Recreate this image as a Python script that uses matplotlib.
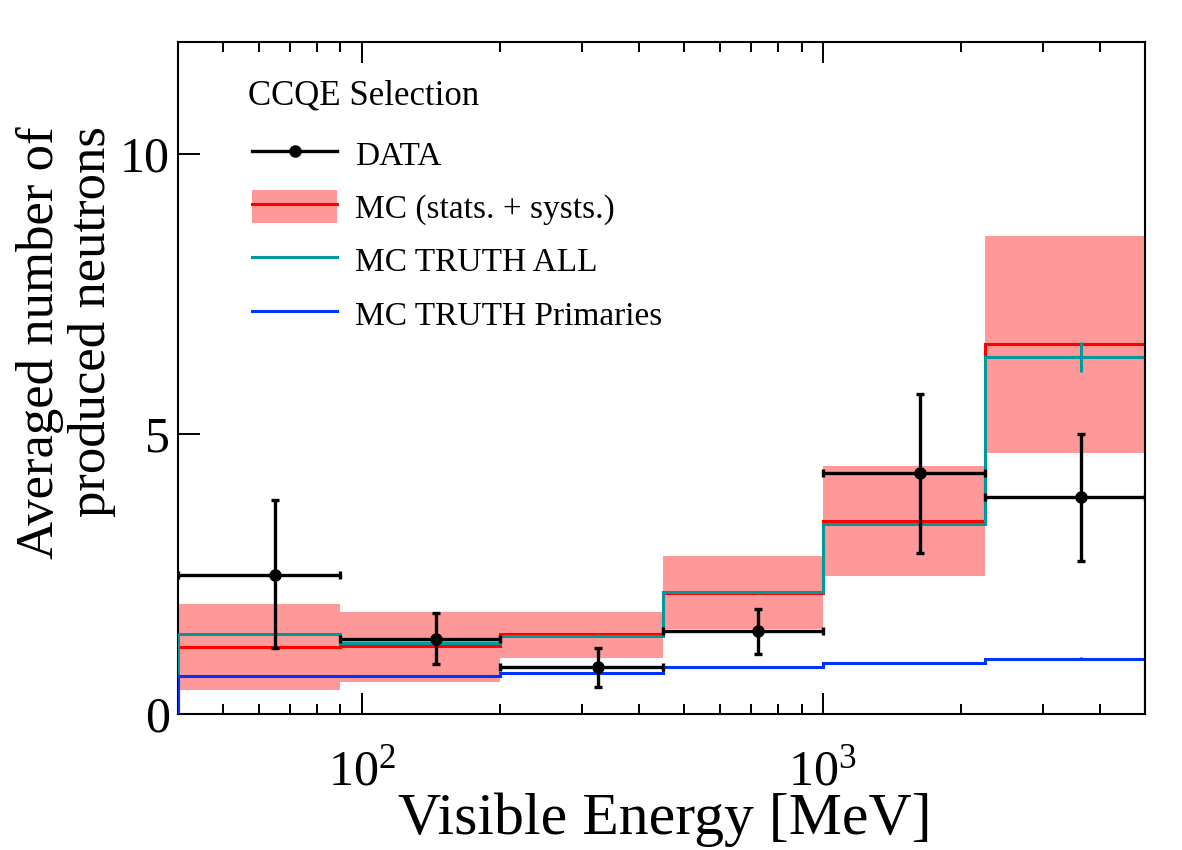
import matplotlib
matplotlib.use("Agg")
import matplotlib.pyplot as plt
from matplotlib.lines import Line2D
from matplotlib.patches import Patch
from matplotlib.ticker import NullFormatter

plt.rcParams['font.family'] = ['Liberation Serif', 'DejaVu Serif']
plt.rcParams['mathtext.fontset'] = 'custom'
plt.rcParams['mathtext.rm'] = 'Liberation Serif'
plt.rcParams['mathtext.it'] = 'Liberation Serif:italic'

# bins in visible energy [MeV]
edges = [40, 90, 200, 450, 1000, 2250, 5000]
centres = [65, 145, 325, 725, 1625, 3625]

# data points with errors
data_y = [2.49, 1.34, 0.84, 1.48, 4.30, 3.87]
data_up = [3.83, 1.81, 1.18, 1.87, 5.71, 5.00]
data_lo = [1.17, 0.90, 0.49, 1.07, 2.88, 2.73]

# MC prediction + band (stats + systs)
mc = [1.19, 1.22, 1.42, 2.16, 3.44, 6.60]
mc_hi = [1.96, 1.83, 1.83, 2.83, 4.42, 8.54]
mc_lo = [0.42, 0.58, 1.00, 1.52, 2.46, 4.66]

# MC truth
truth_all = [1.43, 1.27, 1.40, 2.17, 3.39, 6.37]
truth_all_err = [0.02, 0.02, 0.03, 0.03, 0.05, 0.27]
truth_prim = [0.68, 0.68, 0.74, 0.84, 0.91, 0.99]
truth_prim_err = [0.01, 0.01, 0.01, 0.01, 0.02, 0.03]

pink = '#ff9999'
red = '#ff0000'
teal = '#009999'
blue = '#0033ff'

fig = plt.figure(figsize=(11.82, 8.5), dpi=100)
ax = fig.add_axes([178/1182, 136/850, 967/1182, 672/850])

ax.stairs(mc_hi, edges, baseline=mc_lo, fill=True, color=pink, lw=0, zorder=1)
ax.stairs(mc, edges, baseline=0, color=red, lw=2.2, zorder=2)
ax.stairs(truth_all, edges, baseline=0, color=teal, lw=2.2, zorder=3)
ax.errorbar(centres, truth_all, yerr=truth_all_err, fmt='none', ecolor=teal,
            elinewidth=2.2, capsize=0, zorder=3)
ax.stairs(truth_prim, edges, baseline=0, color=blue, lw=2.2, zorder=4)
ax.errorbar(centres, truth_prim, yerr=truth_prim_err, fmt='none', ecolor=blue,
            elinewidth=2.2, capsize=0, zorder=4)

xerr = [[c - edges[i] for i, c in enumerate(centres)],
        [edges[i + 1] - c for i, c in enumerate(centres)]]
yerr = [[y - l for y, l in zip(data_y, data_lo)],
        [u - y for y, u in zip(data_y, data_up)]]
ax.errorbar(centres, data_y, xerr=xerr, yerr=yerr, fmt='o', color='black',
            ms=8, elinewidth=2.4, capsize=3, capthick=2.4, zorder=5)

ax.set_xscale('log')
ax.set_xlim(40, 5000)
ax.set_ylim(0, 12)
ax.set_yticks([0, 5, 10])
ax.xaxis.set_minor_formatter(NullFormatter())

ax.tick_params(which='both', direction='in', top=True, right=False,
               width=1.4, labelsize=36)
ax.tick_params(axis='x', which='major', length=15, pad=25)
ax.tick_params(axis='x', which='minor', length=7)
ax.tick_params(axis='y', which='major', length=16, pad=6)
for s in ax.spines.values():
    s.set_linewidth(1.5)
ax.spines['right'].set_zorder(10)

fig.text(665/1182, 0.004, 'Visible Energy [MeV]', ha='center', va='bottom',
         fontsize=43)
fig.text(66/1182, (850-126)/850, 'Averaged number of\nproduced neutrons',
         rotation=90, ha='center', va='top', multialignment='right',
         fontsize=38, linespacing=1.1)

ax.text(248/1182, (850-96)/850, 'CCQE Selection', transform=fig.transFigure,
        ha='left', va='center', fontsize=25)

handles = [Line2D([], [], color='black', lw=2.4, marker='o', ms=8),
           (Patch(color=pink, lw=0), Line2D([], [], color=red, lw=2.2)),
           Line2D([], [], color=teal, lw=2.2),
           Line2D([], [], color=blue, lw=2.2)]
labels = ['DATA', 'MC (stats. + systs.)', 'MC TRUTH ALL', 'MC TRUTH Primaries']
leg = ax.legend(handles, labels, loc='upper left',
                bbox_to_anchor=(252/1182, (850-137)/850),
                bbox_transform=fig.transFigure, frameon=False,
                fontsize=24, handlelength=2.55, handleheight=1.15,
                handletextpad=0.55, labelspacing=0.55, borderpad=0,
                borderaxespad=0)

fig.savefig('out.png', dpi=100)
